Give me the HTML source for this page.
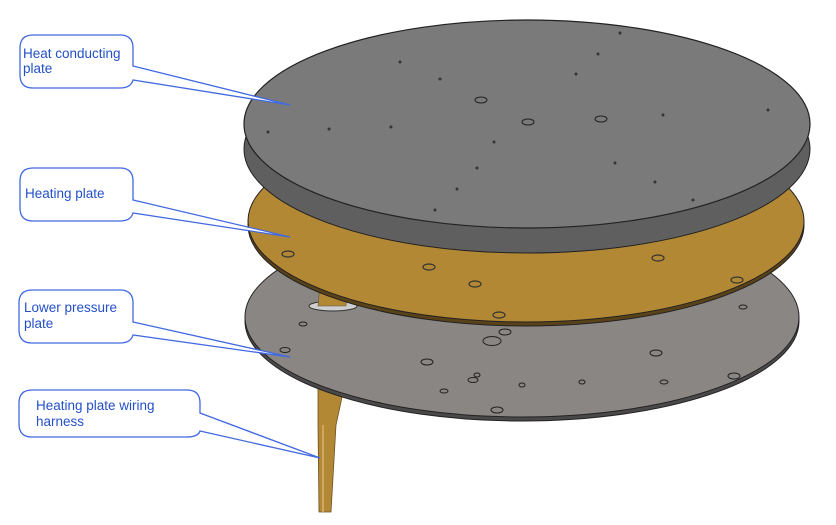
<!DOCTYPE html>
<html><head><style>
html,body{margin:0;padding:0;background:#fff;}
svg{display:block;}
text{font-family:"Liberation Sans",sans-serif;font-size:13.5px;fill:#2350c8;}
</style></head><body>
<svg width="836" height="525" viewBox="0 0 836 525" xmlns="http://www.w3.org/2000/svg">
<!-- harness -->
<path d="M318 388 L344 388 L336 425 L331 512 L319 512 L318 425 Z" fill="#b38835" stroke="#6b5020" stroke-width="0.8"/>
<line x1="323" y1="425" x2="323" y2="512" stroke="#d0a860" stroke-width="2"/>
<!-- lower pressure plate -->
<ellipse cx="522" cy="321" rx="277" ry="100" fill="#4a4848" stroke="#222" stroke-width="1"/>
<ellipse cx="522" cy="317" rx="277" ry="100" fill="#8a8684" stroke="#222" stroke-width="1"/>
<ellipse cx="333" cy="306" rx="24" ry="5" fill="#cfcfcf" stroke="#333"/>
<path d="M318 306 L320 285 L348 285 L346 306 Z" fill="#b38835" stroke="#555" stroke-width="0.6"/>
<g fill="none" stroke="#222" stroke-width="1">
<ellipse cx="303" cy="324" rx="4" ry="2"/><ellipse cx="285" cy="350" rx="5" ry="2.5"/>
<ellipse cx="492" cy="341" rx="9" ry="4.5"/><ellipse cx="505" cy="332" rx="6" ry="3"/>
<ellipse cx="427" cy="362" rx="6" ry="3"/><ellipse cx="473" cy="380" rx="5" ry="2.5"/>
<ellipse cx="477" cy="375" rx="3" ry="2"/><ellipse cx="444" cy="391" rx="4" ry="2"/>
<ellipse cx="522" cy="385" rx="3" ry="2"/><ellipse cx="497" cy="410" rx="6" ry="3"/>
<ellipse cx="743" cy="307" rx="4" ry="2"/><ellipse cx="656" cy="353" rx="6" ry="3"/>
<ellipse cx="582" cy="382" rx="3" ry="2"/><ellipse cx="664" cy="382" rx="4" ry="2"/>
<ellipse cx="734" cy="376" rx="6" ry="3"/>
</g>
<!-- heating plate -->
<ellipse cx="526" cy="225" rx="278" ry="101" fill="#5a4218" stroke="#222" stroke-width="1"/>
<ellipse cx="526" cy="221" rx="278" ry="101" fill="#b38835" stroke="#222" stroke-width="1"/>
<g fill="none" stroke="#333" stroke-width="1.2">
<ellipse cx="288" cy="254" rx="6" ry="3"/><ellipse cx="429" cy="267" rx="6" ry="3"/>
<ellipse cx="475" cy="284" rx="6" ry="3"/><ellipse cx="499" cy="315" rx="6" ry="3"/>
<ellipse cx="658" cy="258" rx="6" ry="3"/><ellipse cx="737" cy="280" rx="6" ry="3"/>
</g>
<!-- top plate -->
<ellipse cx="527" cy="149" rx="283" ry="104" fill="#5f5f5f" stroke="#222" stroke-width="1"/>
<ellipse cx="527" cy="124" rx="283" ry="104" fill="#7a7a7a" stroke="#222" stroke-width="1.2"/>
<g fill="#333">
<circle cx="400" cy="62" r="1.5"/><circle cx="440" cy="79" r="1.5"/><circle cx="576" cy="74" r="1.5"/>
<circle cx="598" cy="54" r="1.5"/><circle cx="620" cy="33" r="1.5"/><circle cx="268" cy="132" r="1.5"/>
<circle cx="329" cy="129" r="1.5"/><circle cx="391" cy="127" r="1.5"/><circle cx="494" cy="142" r="1.5"/>
<circle cx="663" cy="115" r="1.5"/><circle cx="768" cy="110" r="1.5"/><circle cx="615" cy="163" r="1.5"/>
<circle cx="655" cy="182" r="1.5"/><circle cx="457" cy="189" r="1.5"/><circle cx="693" cy="200" r="1.5"/>
<circle cx="435" cy="210" r="1.5"/><circle cx="477" cy="168" r="1.5"/>
</g>
<g fill="none" stroke="#222" stroke-width="1">
<ellipse cx="481" cy="100" rx="6" ry="3"/><ellipse cx="528" cy="122" rx="6" ry="3"/>
<ellipse cx="601" cy="119" rx="6" ry="3"/>
</g>
<!-- callouts -->
<g fill="#fff" stroke="#4169e1" stroke-width="1.3">
<path d="M33 35 H120 Q133 35 133 48 V66 L290 105 L133 80 Q131 88 120 88 H33 Q20 88 20 75 V48 Q20 35 33 35 Z"/>
<path d="M33 168 H120 Q133 168 133 181 V200 L290 237 L133 213 Q131 221 120 221 H33 Q20 221 20 208 V181 Q20 168 33 168 Z"/>
<path d="M32 290 H120 Q133 290 133 303 V322 L290 357 L133 335 Q131 343 120 343 H32 Q19 343 19 330 V303 Q19 290 32 290 Z"/>
<path d="M32 390 H187 Q200 390 200 403 V413 L320 458 L200 431 Q198 437 187 437 H32 Q19 437 19 424 V403 Q19 390 32 390 Z"/>
</g>
<text x="23" y="58">Heat conducting</text><text x="23" y="73">plate</text>
<text x="25" y="198">Heating plate</text>
<text x="24" y="312">Lower pressure</text><text x="24" y="328">plate</text>
<text x="36" y="410">Heating plate wiring</text><text x="36" y="426">harness</text>
</svg>
</body></html>
